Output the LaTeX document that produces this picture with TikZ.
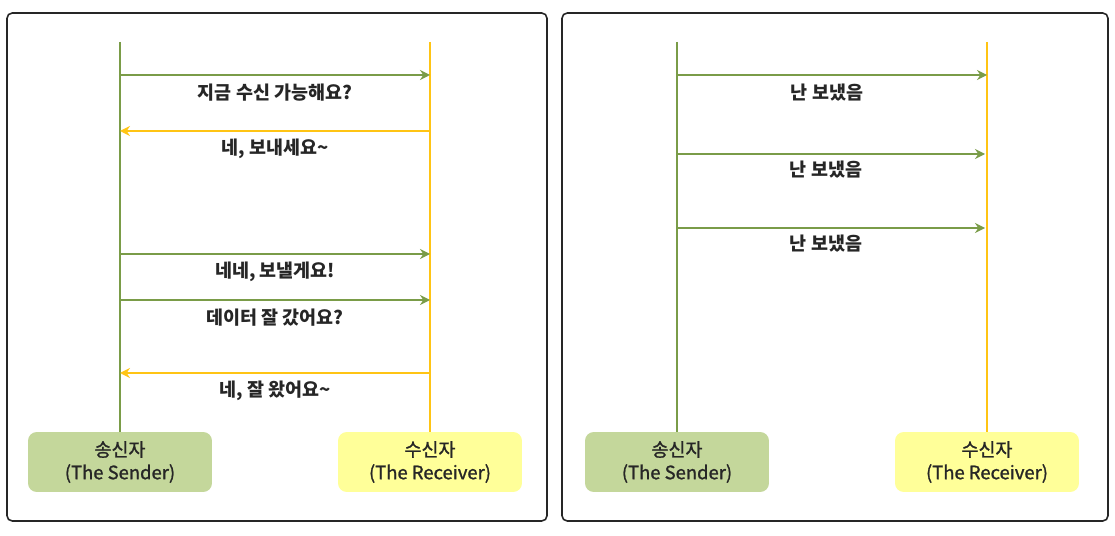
\documentclass[tikz,border=0pt]{standalone}
\usepackage{fontspec}
\setmainfont{Noto Sans CJK KR}
\newfontfamily\actorfont{Noto Sans CJK KR}[FakeBold=1.2]
\usetikzlibrary{arrows.meta, positioning}
\definecolor{sendgreen}{RGB}{122,156,72}
\definecolor{recvyellow}{RGB}{255,196,20}
\definecolor{sendfill}{RGB}{196,215,155}
\definecolor{recvfill}{RGB}{255,255,153}
\tikzset{
    panel/.style={draw=black!85, line width=0.9pt, rounded corners=3pt},
    actor/.style={rectangle, fill=#1, rounded corners=5pt, minimum width=3.68cm, minimum height=1.2cm, align=center, font=\actorfont\fontsize{10.5}{13}\selectfont, text=black!85, inner sep=2pt},
    lifeline/.style={draw=#1, line width=0.9pt},
    msg/.style={-{Stealth[length=2mm, width=2mm]}, draw=#1, line width=0.8pt},
    msglabel/.style={midway, yshift=-0.36cm, font=\bfseries\fontsize{10.5}{12}\selectfont, text=black!85}
}

\begin{document}
\begin{tikzpicture}[x=0.02cm, y=-0.02cm]
\useasboundingbox (0,0) rectangle (1115,536);

% frames
\draw[panel] (7,13) rectangle (547,521);
\draw[panel] (562,13) rectangle (1108,521);

% left: handshake
\node[actor=sendfill] (snd1) at (120,462) {송신자\\(The Sender)};
\node[actor=recvfill] (rcv1) at (430,462) {수신자\\(The Receiver)};
\coordinate (snd1top) at (120,42);
\coordinate (rcv1top) at (430,42);
\draw[lifeline=sendgreen] (snd1top) -- (snd1.north);
\draw[lifeline=recvyellow] (rcv1top) -- (rcv1.north);

\coordinate (a1) at (120,75);  \coordinate (b1) at (430,75);
\coordinate (a2) at (120,131); \coordinate (b2) at (430,131);
\coordinate (a3) at (120,254); \coordinate (b3) at (430,254);
\coordinate (a4) at (120,300); \coordinate (b4) at (430,300);
\coordinate (a5) at (120,373); \coordinate (b5) at (430,373);

\draw[msg=sendgreen] (a1) -- node[msglabel] (m1) {지금 수신 가능해요?} (b1);
\draw[msg=recvyellow] (b2) -- node[msglabel] (m2) {네, 보내세요\textasciitilde} (a2);
\draw[msg=sendgreen] (a3) -- node[msglabel] (m3) {네네, 보낼게요!} (b3);
\draw[msg=sendgreen] (a4) -- node[msglabel] (m4) {데이터 잘 갔어요?} (b4);
\draw[msg=recvyellow] (b5) -- node[msglabel] (m5) {네, 잘 왔어요\textasciitilde} (a5);

% right: no handshake
\node[actor=sendfill] (snd2) at (677,462) {송신자\\(The Sender)};
\node[actor=recvfill] (rcv2) at (987,462) {수신자\\(The Receiver)};
\coordinate (snd2top) at (677,42);
\coordinate (rcv2top) at (987,42);
\draw[lifeline=sendgreen] (snd2top) -- (snd2.north);
\draw[lifeline=recvyellow] (rcv2top) -- (rcv2.north);

\coordinate (c1) at (677,75);  \coordinate (d1) at (987,75);
\coordinate (c2) at (677,154); \coordinate (d2) at (985,154);
\coordinate (c3) at (677,228); \coordinate (d3) at (985,228);

\draw[msg=sendgreen] (c1) -- node[msglabel, xshift=-0.1cm] (n1) {난 보냈음} (d1);
\draw[msg=sendgreen] (c2) -- node[msglabel, xshift=-0.1cm, yshift=0.04cm] (n2) {난 보냈음} (d2);
\draw[msg=sendgreen] (c3) -- node[msglabel, xshift=-0.1cm, yshift=0.04cm] (n3) {난 보냈음} (d3);

\end{tikzpicture}
\end{document}
